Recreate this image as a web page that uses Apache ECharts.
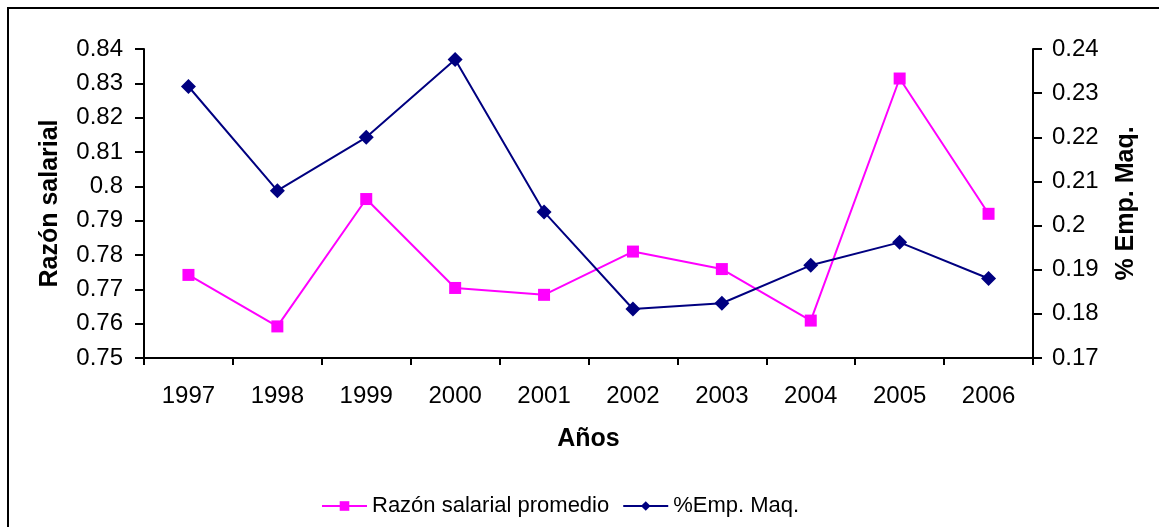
<!DOCTYPE html>
<html>
<head>
<meta charset="utf-8">
<script src="https://cdn.jsdelivr.net/npm/echarts@6/dist/echarts.min.js"></script>
<style>
  html, body { margin: 0; padding: 0; background: #fff; }
  #chart { width: 1159px; height: 527px; }
</style>
</head>
<body>
<div id="chart"></div>
<script>
var years = ["1997", "1998", "1999", "2000", "2001", "2002", "2003", "2004", "2005", "2006"];
var razonSalarial = [0.7742, 0.7592, 0.7963, 0.7704, 0.7684, 0.7810, 0.7759, 0.7609, 0.8314, 0.7920];
var empMaq = [0.2315, 0.2079, 0.2200, 0.2376, 0.2031, 0.1811, 0.1824, 0.1910, 0.1962, 0.1880];

var font = "'Liberation Sans', Arial, sans-serif";
var chart = echarts.init(document.getElementById("chart"));

chart.setOption({
  animation: false,
  textStyle: { fontFamily: font },
  graphic: [
    {
      type: "rect",
      shape: { x: 8, y: 8, width: 1200, height: 600 },
      style: { fill: "none", stroke: "#000", lineWidth: 2 }
    }
  ],
  grid: { left: 144, right: 126, top: 49, bottom: 169 },
  legend: {
    bottom: 5,
    left: 316,
    itemWidth: 45,
    itemHeight: 12,
    itemGap: 13,
    textStyle: { fontSize: 22, color: "#000", fontFamily: font },
    data: ["Razón salarial promedio", "%Emp. Maq."]
  },
  xAxis: {
    type: "category",
    data: years,
    boundaryGap: true,
    name: "Años",
    nameLocation: "middle",
    nameGap: 69,
    nameTextStyle: { fontSize: 25, fontWeight: "bold", color: "#000" },
    axisLine: { lineStyle: { color: "#000", width: 2 } },
    axisTick: { show: true, inside: false, length: 7, lineStyle: { color: "#000", width: 2 } },
    axisLabel: { fontSize: 24, color: "#000", margin: 26 },
    splitLine: { show: false }
  },
  yAxis: [
    {
      type: "value",
      position: "left",
      min: 0.75,
      max: 0.84,
      interval: 0.01,
      name: "Razón salarial",
      nameLocation: "middle",
      nameGap: 81,
      nameRotate: 90,
      nameTextStyle: { fontSize: 25, fontWeight: "bold", color: "#000" },
      axisLine: { show: true, lineStyle: { color: "#000", width: 2 } },
      axisTick: { show: true, length: 9, lineStyle: { color: "#000", width: 2 } },
      axisLabel: {
        fontSize: 24, color: "#000", margin: 21,
        formatter: function (v) { return String(+v.toFixed(2)); }
      },
      splitLine: { show: false }
    },
    {
      type: "value",
      position: "right",
      min: 0.17,
      max: 0.24,
      interval: 0.01,
      name: "% Emp. Maq.",
      nameLocation: "middle",
      nameGap: 81,
      nameRotate: 90,
      nameTextStyle: { fontSize: 25, fontWeight: "bold", color: "#000" },
      axisLine: { show: true, lineStyle: { color: "#000", width: 2 } },
      axisTick: { show: true, length: 9, lineStyle: { color: "#000", width: 2 } },
      axisLabel: {
        fontSize: 24, color: "#000", margin: 19,
        formatter: function (v) { return String(+v.toFixed(2)); }
      },
      splitLine: { show: false }
    }
  ],
  series: [
    {
      name: "Razón salarial promedio",
      type: "line",
      yAxisIndex: 0,
      data: razonSalarial,
      symbol: "rect",
      symbolSize: 12,
      color: "#FF00FF",
      lineStyle: { color: "#FF00FF", width: 2 },
      itemStyle: { color: "#FF00FF" }
    },
    {
      name: "%Emp. Maq.",
      type: "line",
      yAxisIndex: 1,
      data: empMaq,
      symbol: "diamond",
      symbolSize: 15,
      color: "#000080",
      lineStyle: { color: "#000080", width: 2 },
      itemStyle: { color: "#000080" }
    }
  ]
});
</script>
</body>
</html>
